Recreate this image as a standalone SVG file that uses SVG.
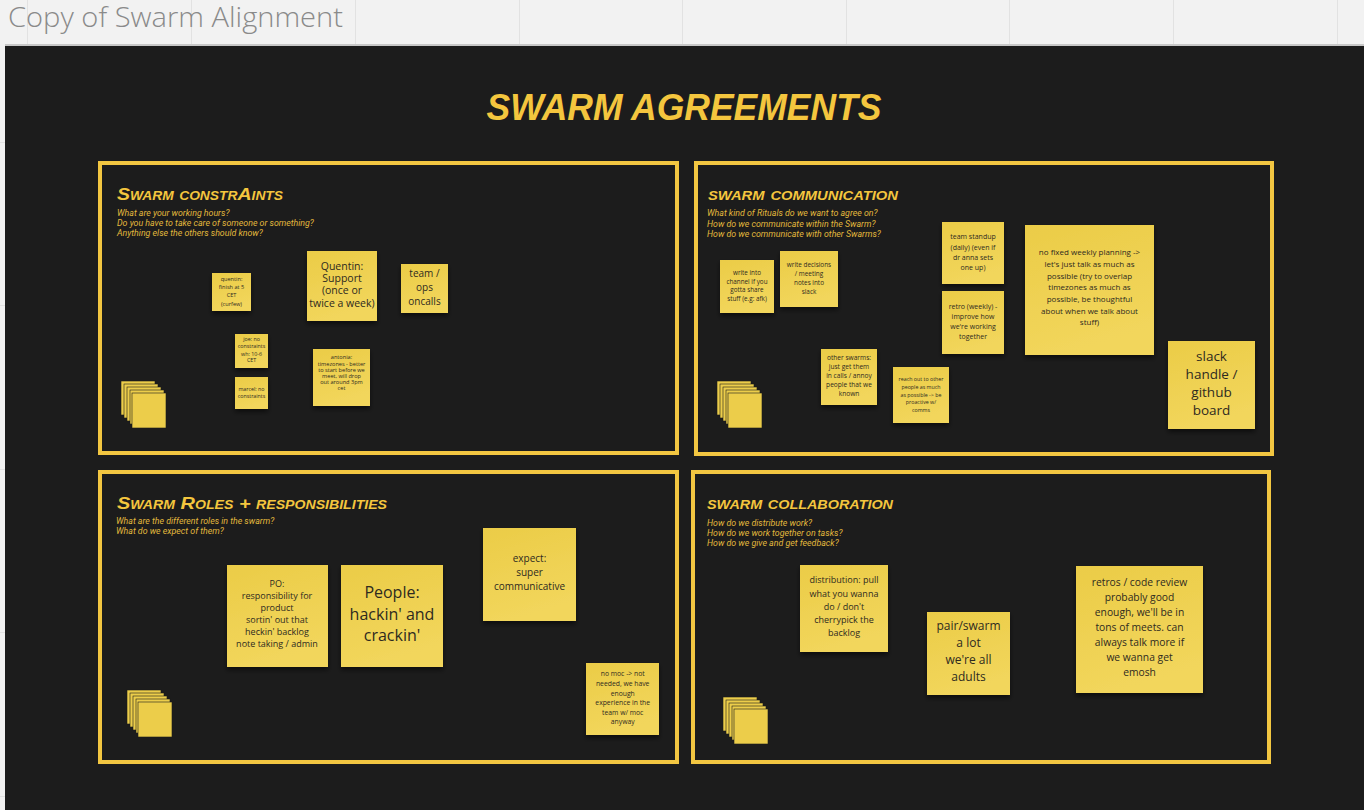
<svg xmlns="http://www.w3.org/2000/svg" width="1364" height="810" viewBox="0 0 1364 810">
<defs>
<linearGradient id="stk" x1="0" y1="0" x2="0.3" y2="1">
<stop offset="0" stop-color="#ebcc47"/>
<stop offset="1" stop-color="#f2d65c"/>
</linearGradient>
<filter id="sh" x="-20%" y="-20%" width="140%" height="150%">
<feDropShadow dx="0" dy="3" stdDeviation="2.5" flood-color="#000" flood-opacity="0.55"/>
</filter>
</defs>
<style>
.grid{stroke:#e2e2e2;stroke-width:1}
.frame{fill:none;stroke:#f2c641;stroke-width:4}
.title{font-family:"Liberation Sans",Arial,sans-serif;font-weight:bold;font-style:italic;fill:#f4c63e}
.head{font-family:"Liberation Sans",Arial,sans-serif;font-weight:bold;font-style:italic;font-variant:small-caps;fill:#f4c63e;font-size:17px}
.sub{font-family:Roboto,"Liberation Sans",sans-serif;font-style:italic;fill:#e2b93c;font-size:8.8px}
.note{fill:url(#stk);filter:url(#sh)}
.stack{fill:#eccd4a;stroke:#1c1c1c;stroke-width:0.6}
.t{font-family:"Open Sans","Liberation Sans",sans-serif;fill:#2e2a1f;text-anchor:middle}
</style>
<rect x="0" y="0" width="1364" height="810" fill="#f2f2f2"/>
<g class="grid">
<line x1="27.5" y1="0" x2="27.5" y2="45"/><line x1="191.5" y1="0" x2="191.5" y2="45"/><line x1="355.5" y1="0" x2="355.5" y2="45"/><line x1="519.5" y1="0" x2="519.5" y2="45"/><line x1="682.5" y1="0" x2="682.5" y2="45"/><line x1="846.5" y1="0" x2="846.5" y2="45"/><line x1="1009.5" y1="0" x2="1009.5" y2="45"/><line x1="1173.5" y1="0" x2="1173.5" y2="45"/><line x1="1337.5" y1="0" x2="1337.5" y2="45"/>
<line x1="0" y1="142.5" x2="5" y2="142.5"/><line x1="0" y1="305.5" x2="5" y2="305.5"/><line x1="0" y1="469.5" x2="5" y2="469.5"/><line x1="0" y1="632.5" x2="5" y2="632.5"/><line x1="0" y1="796.5" x2="5" y2="796.5"/>
</g>
<text x="8" y="27" font-family="'Open Sans','Liberation Sans',sans-serif" font-weight="300" font-size="27" fill="#8a8a8a" textLength="335" lengthAdjust="spacingAndGlyphs">Copy of Swarm Alignment</text>
<rect x="5" y="44" width="1359" height="2" fill="#c8c8c8"/>
<rect x="5" y="46" width="1359" height="764" fill="#1c1c1c"/>
<text class="title" x="684" y="120" font-size="36" text-anchor="middle" textLength="395" lengthAdjust="spacingAndGlyphs">SWARM AGREEMENTS</text>

<g id="frame-constraints">
<rect class="frame" x="100" y="163" width="577" height="290"/>
<text class="head" x="117" y="200" textLength="166" lengthAdjust="spacingAndGlyphs">Swarm constrAints</text>
<text class="sub" x="117" y="215.5">What are your working hours?</text>
<text class="sub" x="117" y="225.5">Do you have to take care of someone or something?</text>
<text class="sub" x="117" y="235.5">Anything else the others should know?</text>
</g>
<g id="frame-communication">
<rect class="frame" x="696" y="163" width="576" height="291"/>
<text class="head" x="708" y="200" textLength="190" lengthAdjust="spacingAndGlyphs">swarm communication</text>
<text class="sub" x="707" y="216.3">What kind of Rituals do we want to agree on?</text>
<text class="sub" x="707" y="226.7">How do we communicate within the Swarm?</text>
<text class="sub" x="707" y="236.7">How do we communicate with other Swarms?</text>
</g>
<g id="frame-roles">
<rect class="frame" x="100" y="472" width="577" height="290"/>
<text class="head" x="117" y="509" textLength="270" lengthAdjust="spacingAndGlyphs">Swarm Roles + responsibilities</text>
<text class="sub" x="116" y="524">What are the different roles in the swarm?</text>
<text class="sub" x="116" y="533.7">What do we expect of them?</text>
</g>
<g id="frame-collaboration">
<rect class="frame" x="693" y="472" width="576" height="290"/>
<text class="head" x="707" y="509" textLength="186" lengthAdjust="spacingAndGlyphs">swarm collaboration</text>
<text class="sub" x="707" y="525.7">How do we distribute work?</text>
<text class="sub" x="707" y="535.7">How do we work together on tasks?</text>
<text class="sub" x="707" y="545.7">How do we give and get feedback?</text>
</g>

<g id="stack-constraints">
<rect class="stack" x="121" y="381" width="34" height="34"/><rect class="stack" x="124" y="384" width="34" height="34"/><rect class="stack" x="127" y="387" width="34" height="34"/><rect class="stack" x="130" y="390" width="34" height="34"/><rect class="stack" x="132" y="393" width="34" height="35"/>
</g>
<g id="stack-communication">
<rect class="stack" x="717" y="381" width="34" height="34"/><rect class="stack" x="720" y="384" width="34" height="34"/><rect class="stack" x="723" y="387" width="34" height="34"/><rect class="stack" x="726" y="390" width="34" height="34"/><rect class="stack" x="728" y="393" width="34" height="35"/>
</g>
<g id="stack-roles">
<rect class="stack" x="127" y="690" width="34" height="34"/><rect class="stack" x="130" y="693" width="34" height="34"/><rect class="stack" x="133" y="696" width="34" height="34"/><rect class="stack" x="136" y="699" width="34" height="34"/><rect class="stack" x="138" y="702" width="34" height="35"/>
</g>
<g id="stack-collaboration">
<rect class="stack" x="723" y="697" width="34" height="34"/><rect class="stack" x="726" y="700" width="34" height="34"/><rect class="stack" x="729" y="703" width="34" height="34"/><rect class="stack" x="732" y="706" width="34" height="34"/><rect class="stack" x="734" y="709" width="34" height="35"/>
</g>

<g id="note-quentin-curfew">
<rect class="note" x="212" y="273" width="39" height="38"/>
<text class="t" font-size="5.6"><tspan x="231.5" y="281.3">quentin:</tspan><tspan x="231.5" y="289.3">finish at 5</tspan><tspan x="231.5" y="297.3">CET</tspan><tspan x="231.5" y="305.5">(curfew)</tspan></text>
</g>
<g id="note-quentin-support">
<rect class="note" x="307" y="251" width="70" height="70"/>
<text class="t" font-size="10.5"><tspan x="342" y="269.5">Quentin:</tspan><tspan x="342" y="282">Support</tspan><tspan x="342" y="294">(once or</tspan><tspan x="342" y="306.5">twice a week)</tspan></text>
</g>
<g id="note-team-ops">
<rect class="note" x="401" y="264" width="47" height="49"/>
<text class="t" font-size="10"><tspan x="424.5" y="277">team /</tspan><tspan x="424.5" y="291">ops</tspan><tspan x="424.5" y="305">oncalls</tspan></text>
</g>
<g id="note-joe">
<rect class="note" x="235" y="334" width="33" height="34"/>
<text class="t" font-size="5.3"><tspan x="251.5" y="341">joe: no</tspan><tspan x="251.5" y="347.5">constraints</tspan><tspan x="251.5" y="355.5">wh: 10-6</tspan><tspan x="251.5" y="362">CET</tspan></text>
</g>
<g id="note-marcel">
<rect class="note" x="235" y="377" width="33" height="32"/>
<text class="t" font-size="5.3"><tspan x="251.5" y="391">marcel: no</tspan><tspan x="251.5" y="397.5">constraints</tspan></text>
</g>
<g id="note-antonia">
<rect class="note" x="313" y="349" width="57" height="57"/>
<text class="t" font-size="5.6"><tspan x="341.5" y="359.3">antonia:</tspan><tspan x="341.5" y="365.7">timezones - better</tspan><tspan x="341.5" y="372">to start before we</tspan><tspan x="341.5" y="378.3">meet, will drop</tspan><tspan x="341.5" y="384.3">out around 3pm</tspan><tspan x="341.5" y="390.3">cet</tspan></text>
</g>

<g id="note-write-channel">
<rect class="note" x="720" y="260" width="54" height="53"/>
<text class="t" font-size="6.3"><tspan x="747" y="274.9">write into</tspan><tspan x="747" y="283.9">channel if you</tspan><tspan x="747" y="292.2">gotta share</tspan><tspan x="747" y="300.9">stuff (e.g: afk)</tspan></text>
</g>
<g id="note-write-decisions">
<rect class="note" x="780" y="251" width="58" height="56"/>
<text class="t" font-size="6.4"><tspan x="809" y="266.5">write decisions</tspan><tspan x="809" y="275.9">/ meeting</tspan><tspan x="809" y="284.5">notes into</tspan><tspan x="809" y="293.5">slack</tspan></text>
</g>
<g id="note-other-swarms">
<rect class="note" x="821" y="349" width="56" height="56"/>
<text class="t" font-size="6.6"><tspan x="849" y="360">other swarms:</tspan><tspan x="849" y="369">just get them</tspan><tspan x="849" y="378">in calls / annoy</tspan><tspan x="849" y="387">people that we</tspan><tspan x="849" y="395.6">known</tspan></text>
</g>
<g id="note-reach-out">
<rect class="note" x="893" y="367" width="56" height="56"/>
<text class="t" font-size="5.3"><tspan x="921" y="381.2">reach out to other</tspan><tspan x="921" y="388.9">people as much</tspan><tspan x="921" y="396.6">as possible -&gt; be</tspan><tspan x="921" y="404.2">proactive w/</tspan><tspan x="921" y="412.2">comms</tspan></text>
</g>
<g id="note-standup">
<rect class="note" x="942" y="222" width="62" height="62"/>
<text class="t" font-size="7"><tspan x="973" y="239.2">team standup</tspan><tspan x="973" y="249.8">(daily) (even if</tspan><tspan x="973" y="259.5">dr anna sets</tspan><tspan x="973" y="269.5">one up)</tspan></text>
</g>
<g id="note-retro">
<rect class="note" x="942" y="291" width="62" height="63"/>
<text class="t" font-size="7"><tspan x="973" y="308.8">retro (weekly) -</tspan><tspan x="973" y="318.8">improve how</tspan><tspan x="973" y="328.8">we're working</tspan><tspan x="973" y="338.8">together</tspan></text>
</g>
<g id="note-no-fixed-planning">
<rect class="note" x="1025" y="225" width="129" height="130"/>
<text class="t" font-size="8"><tspan x="1089.5" y="254.8">no fixed weekly planning -&gt;</tspan><tspan x="1089.5" y="266.8">let's just talk as much as</tspan><tspan x="1089.5" y="278.8">possible (try to overlap</tspan><tspan x="1089.5" y="290.1">timezones as much as</tspan><tspan x="1089.5" y="301.8">possible, be thoughtful</tspan><tspan x="1089.5" y="313.8">about when we talk about</tspan><tspan x="1089.5" y="325.1">stuff)</tspan></text>
</g>
<g id="note-slack-handle">
<rect class="note" x="1168" y="341" width="87" height="88"/>
<text class="t" font-size="13.5"><tspan x="1211.5" y="360.5">slack</tspan><tspan x="1211.5" y="378.5">handle /</tspan><tspan x="1211.5" y="397">github</tspan><tspan x="1211.5" y="415">board</tspan></text>
</g>

<g id="note-po">
<rect class="note" x="227" y="565" width="101" height="102"/>
<text class="t" font-size="9"><tspan x="277" y="586.5">PO:</tspan><tspan x="277" y="599.2">responsibility for</tspan><tspan x="277" y="611.2">product</tspan><tspan x="277" y="623.2">sortin' out that</tspan><tspan x="277" y="634.9">heckin' backlog</tspan><tspan x="277" y="647.2">note taking / admin</tspan></text>
</g>
<g id="note-people">
<rect class="note" x="341" y="565" width="102" height="102"/>
<text class="t" font-size="16"><tspan x="392" y="597.5">People:</tspan><tspan x="392" y="619.8">hackin' and</tspan><tspan x="392" y="640.8">crackin'</tspan></text>
</g>
<g id="note-expect">
<rect class="note" x="483" y="528" width="93" height="93"/>
<text class="t" font-size="10"><tspan x="529.5" y="562.2">expect:</tspan><tspan x="529.5" y="576.2">super</tspan><tspan x="529.5" y="590.2">communicative</tspan></text>
</g>
<g id="note-no-moc">
<rect class="note" x="586" y="663" width="73" height="72"/>
<text class="t" font-size="6.8"><tspan x="622.7" y="676.4">no moc -&gt; not</tspan><tspan x="622.7" y="686.1">needed, we have</tspan><tspan x="622.7" y="695.7">enough</tspan><tspan x="622.7" y="705.1">experience in the</tspan><tspan x="622.7" y="715.1">team w/ moc</tspan><tspan x="622.7" y="724.4">anyway</tspan></text>
</g>

<g id="note-distribution">
<rect class="note" x="800" y="565" width="88" height="87"/>
<text class="t" font-size="9"><tspan x="844" y="583.2">distribution: pull</tspan><tspan x="844" y="596.5">what you wanna</tspan><tspan x="844" y="609.9">do / don't</tspan><tspan x="844" y="623.2">cherrypick the</tspan><tspan x="844" y="635.9">backlog</tspan></text>
</g>
<g id="note-pair-swarm">
<rect class="note" x="927" y="612" width="83" height="83"/>
<text class="t" font-size="12"><tspan x="968.5" y="630.2">pair/swarm</tspan><tspan x="968.5" y="646.5">a lot</tspan><tspan x="968.5" y="663.9">we're all</tspan><tspan x="968.5" y="680.9">adults</tspan></text>
</g>
<g id="note-retros">
<rect class="note" x="1076" y="566" width="127" height="127"/>
<text class="t" font-size="10.3"><tspan x="1139.5" y="586.3">retros / code review</tspan><tspan x="1139.5" y="600.9">probably good</tspan><tspan x="1139.5" y="615.9">enough, we'll be in</tspan><tspan x="1139.5" y="630.9">tons of meets. can</tspan><tspan x="1139.5" y="645.6">always talk more if</tspan><tspan x="1139.5" y="660.9">we wanna get</tspan><tspan x="1139.5" y="675.6">emosh</tspan></text>
</g>
<g id="connectors"></g>
</svg>
